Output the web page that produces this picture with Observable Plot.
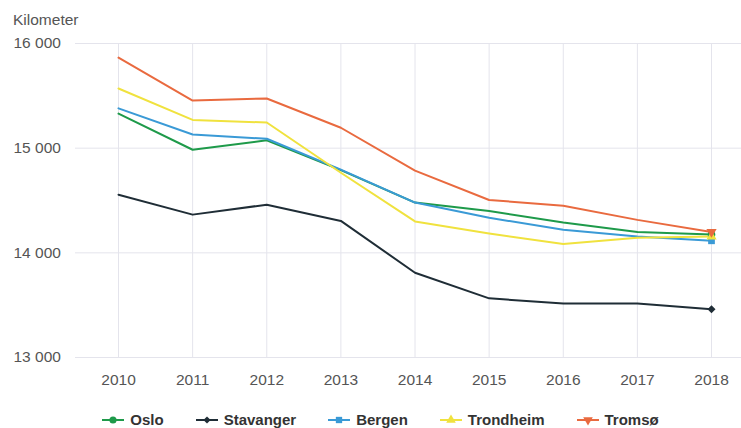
<!DOCTYPE html>
<html><head><meta charset="utf-8">
<script src="https://cdn.jsdelivr.net/npm/d3@7"></script>
<script src="https://cdn.jsdelivr.net/npm/@observablehq/plot@0.6"></script>
<style>
body{margin:0;background:#fff;font-family:"Liberation Sans",Arial,sans-serif;}
#wrap{position:relative;width:741px;height:428px;}
#ylab{position:absolute;left:13px;top:11px;font-size:15.5px;color:#555;}
#legend{position:absolute;left:10px;top:411px;width:741px;display:flex;justify-content:center;font-size:15px;font-weight:bold;color:#333;}
.item{display:flex;align-items:center;margin:0 16px;}
.item svg{margin-right:6px;}
</style></head><body>
<div id="wrap"><div id="ylab">Kilometer</div><div id="chart"></div><div id="legend"></div></div>
<script>
const years = [2010,2011,2012,2013,2014,2015,2016,2017,2018];
const cities = ["Oslo","Stavanger","Bergen","Trondheim","Tromsø"];
const oslo      = [15330,14985,15075,14790,14480,14400,14290,14200,14175];
const stavanger = [14555,14365,14460,14305,13810,13565,13515,13515,13460];
const bergen    = [15380,15130,15090,14795,14480,14335,14220,14155,14115];
const trondheim = [15570,15270,15245,14765,14300,14185,14085,14145,14155];
const tromso    = [15865,15455,15475,15195,14785,14505,14450,14315,14200];
const yTicks = [13000,14000,15000,16000];
const colors = ["#1e9a4a","#1f2d36","#3a9ad6","#f0e23e","#e96a3f"];
const symbols = ["circle","square","square","triangle","triangle"];
const rotates = [0,45,0,0,180];

const series = [oslo,stavanger,bergen,trondheim,tromso];
const data = [];
cities.forEach((c,i)=>years.forEach((y,j)=>data.push({city:c,year:y,km:series[i][j]})));
const last = data.filter(d=>d.year===2018);
const fmt = d => d3.format(",")(d).replace(/,/g," ");

const marks = [
  Plot.gridX(years,{stroke:"#e4e4ec",strokeOpacity:1}),
  Plot.ruleY(yTicks,{stroke:"#e4e4ec"}),
  Plot.axisY(yTicks,{tickSize:0,textAnchor:"start",dx:-53,tickFormat:fmt,fontSize:15.5,fill:"#555",label:null}),
  Plot.axisX(years,{tickSize:0,tickPadding:16,tickFormat:d=>String(d),fontSize:15.5,fill:"#555",label:null}),
  Plot.line(data,{x:"year",y:"km",z:"city",stroke:"city",strokeWidth:2}),
];
cities.forEach((c,i)=>{
  marks.push(Plot.dot(last.filter(d=>d.city===c),{x:"year",y:"km",symbol:()=>symbols[i],fill:colors[i],r:i===1?3.2:3.8,rotate:rotates[i]}));
});
const chart = Plot.plot({
  width:741,height:400,
  marginLeft:75,marginRight:0,marginTop:43,marginBottom:43,
  style:{fontFamily:"'Liberation Sans', Arial, sans-serif",fontSize:"15.5px",color:"#555",background:"transparent"},
  x:{domain:[2010,2018],range:[118,711]},
  y:{domain:[13000,16000]},
  color:{domain:cities,range:colors},
  symbol:{type:"identity"},
  marks
});
document.getElementById("chart").appendChild(chart);

const leg = document.getElementById("legend");
cities.forEach((c,i)=>{
  const it = document.createElement("div"); it.className="item";
  const s = d3.create("svg").attr("width",22).attr("height",14);
  s.append("line").attr("x1",0).attr("x2",22).attr("y1",7).attr("y2",7).attr("stroke",colors[i]).attr("stroke-width",2);
  const type = {circle:d3.symbolCircle,square:d3.symbolSquare,triangle:d3.symbolTriangle}[symbols[i]];
  s.append("path").attr("d",d3.symbol(type,i===1?26:40)()).attr("transform",`translate(11,7) rotate(${rotates[i]})`).attr("fill",colors[i]);
  it.appendChild(s.node());
  const t=document.createElement("span"); t.textContent=c; it.appendChild(t);
  leg.appendChild(it);
});
</script></body></html>
